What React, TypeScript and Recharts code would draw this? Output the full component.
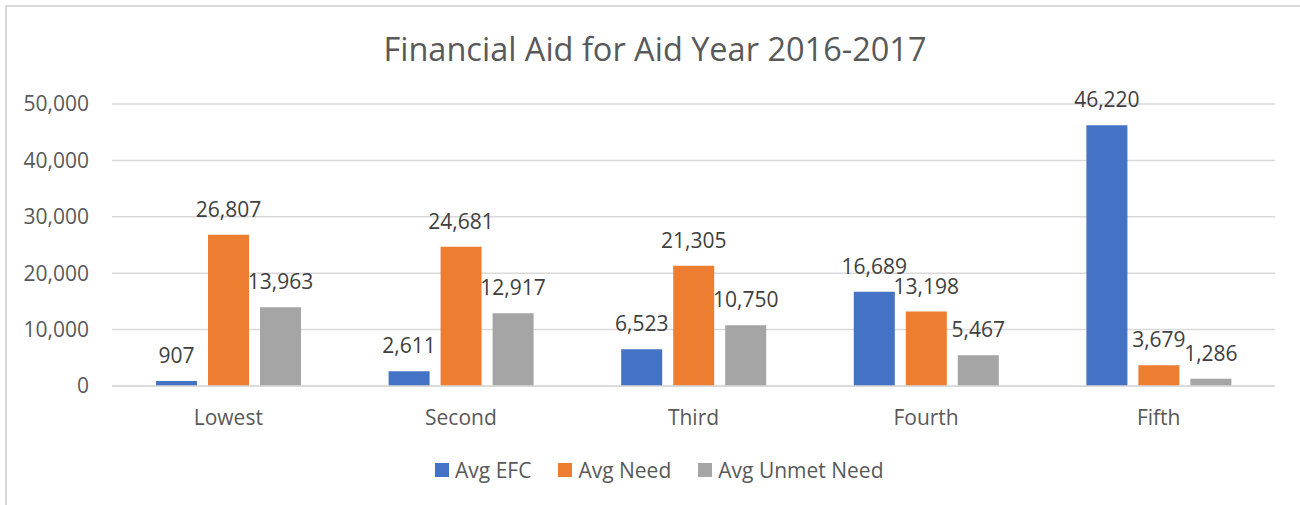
import React from "react";
import { BarChart, Bar, XAxis, YAxis, CartesianGrid, Legend, LabelList } from "recharts";

const categories = ["Lowest", "Second", "Third", "Fourth", "Fifth"];
const avgEFC = [907, 2611, 6523, 16689, 46220];
const avgNeed = [26807, 24681, 21305, 13198, 3679];
const avgUnmetNeed = [13963, 12917, 10750, 5467, 1286];
const yTicks = [0, 10000, 20000, 30000, 40000, 50000];
const seriesNames = ["Avg EFC", "Avg Need", "Avg Unmet Need"];
const seriesColors = ["#4472C4", "#ED7D31", "#A5A5A5"];

const data = categories.map((c, i) => ({
  name: c,
  efc: avgEFC[i],
  need: avgNeed[i],
  unmet: avgUnmetNeed[i],
}));

const FONT = "'Open Sans', sans-serif";
const FS = 21;
const fmt = (v: number) => v.toLocaleString("en-US");

const renderLegend = () => (
  <div style={{ display: "flex", alignItems: "center", fontFamily: FONT, fontSize: FS, color: "#595959", whiteSpace: "nowrap" }}>
    {seriesNames.map((n, i) => (
      <div key={n} style={{ display: "flex", alignItems: "center", marginRight: 27 }}>
        <div style={{ width: 14, height: 14, background: seriesColors[i], marginRight: 6 }} />
        <span>{n}</span>
      </div>
    ))}
  </div>
);

export default function App() {
  return (
    <div style={{ position: "absolute", left: 0, top: 0, width: 1300, height: 505, overflow: "hidden", background: "#fff" }}>
      <div style={{ position: "absolute", left: 5, top: 5, width: 1400, height: 600, borderLeft: "2px solid #D9D9D9", borderTop: "2px solid #D9D9D9" }} />
      <div style={{ position: "absolute", left: 0, width: 1310, top: 27, textAlign: "center", fontFamily: FONT, fontSize: 32.5, color: "#595959", lineHeight: "44px" }}>
        Financial Aid for Aid Year 2016-2017
      </div>
      <div style={{ position: "absolute", left: 0, top: 0 }}>
        <BarChart width={1300} height={505} data={data} margin={{ top: 104, right: 25, bottom: 79, left: 0 }} barSize={41} barGap={11}>
          <CartesianGrid vertical={false} stroke="#D9D9D9" strokeWidth={1.5} />
          <XAxis dataKey="name" height={40} tickSize={0} tickMargin={24} axisLine={{ stroke: "#D9D9D9", strokeWidth: 1.5 }} tickLine={false} tick={{ fontFamily: FONT, fontSize: FS, fill: "#595959" }} />
          <YAxis width={112} domain={[0, 50000]} ticks={yTicks} tickFormatter={fmt} tickSize={0} tickMargin={23} axisLine={false} tickLine={false} tick={{ fontFamily: FONT, fontSize: FS, fill: "#595959" }} />
          <Legend verticalAlign="middle" align="center" layout="horizontal" wrapperStyle={{ left: 435, top: 456 }} content={renderLegend} />
          <Bar dataKey="efc" name={seriesNames[0]} fill={seriesColors[0]} isAnimationActive={false}>
            <LabelList dataKey="efc" position="top" offset={18} formatter={fmt} style={{ fontFamily: FONT, fontSize: FS, fill: "#404040" }} />
          </Bar>
          <Bar dataKey="need" name={seriesNames[1]} fill={seriesColors[1]} isAnimationActive={false}>
            <LabelList dataKey="need" position="top" offset={18} formatter={fmt} style={{ fontFamily: FONT, fontSize: FS, fill: "#404040" }} />
          </Bar>
          <Bar dataKey="unmet" name={seriesNames[2]} fill={seriesColors[2]} isAnimationActive={false}>
            <LabelList dataKey="unmet" position="top" offset={18} formatter={fmt} style={{ fontFamily: FONT, fontSize: FS, fill: "#404040" }} />
          </Bar>
        </BarChart>
      </div>
    </div>
  );
}
